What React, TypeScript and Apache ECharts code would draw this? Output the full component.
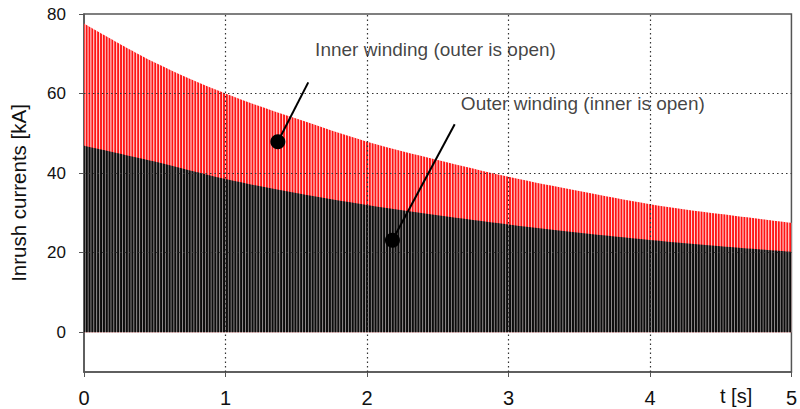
import React, { useEffect, useRef } from 'react';
import * as echarts from 'echarts';

// Envelope (peak) values of the inrush current pulses
const timeS = [0, 0.5, 1, 1.5, 2, 2.5, 3, 3.5, 4, 4.5, 5];
const innerPeakKA = [77.6, 67.8, 60.0, 53.7, 47.9, 43.3, 39.1, 35.5, 32.2, 29.7, 27.5];
const outerPeakKA = [46.9, 42.9, 38.5, 35.0, 32.0, 29.4, 27.1, 25.0, 23.2, 21.6, 20.2];

const yTicks = [0, 20, 40, 60, 80];
const xGridLines = [1, 2, 3, 4];
const yGridLines = [20, 40, 60];

const innerText = 'Inner winding (outer is open)';
const innerTextAt = [1.63, 71.2];
const innerLine = [[1.585, 62.8], [1.37, 47.9]];
const outerText = 'Outer winding (inner is open)';
const outerTextAt = [2.66, 57.4];
const outerLine = [[2.62, 52.3], [2.18, 23.1]];

const FONT = '"Liberation Sans", Arial, Helvetica, sans-serif';

function makeStripes(fg: string, bg: string, fgW: number, hi: string, hiW: number) {
  const c = document.createElement('canvas');
  c.width = 143;
  c.height = 4;
  const ctx = c.getContext('2d')!;
  ctx.fillStyle = bg;
  ctx.fillRect(0, 0, 143, 4);
  for (let i = 0; i < 50; i++) {
    ctx.fillStyle = fg;
    ctx.fillRect(i * 2.86, 0, fgW, 4);
    ctx.fillStyle = hi;
    ctx.fillRect(i * 2.86 + fgW + 0.2, 0, hiW, 4);
  }
  return c;
}

export default function App() {
  const ref = useRef<HTMLDivElement>(null);
  useEffect(() => {
    if (!ref.current) return;
    const chart = echarts.init(ref.current, undefined, { renderer: 'svg' });
    const redPat = makeStripes('#ff1414', '#ffa0a0', 1.8, '#ffffff', 0.55);
    const blackPat = makeStripes('#0c0c0c', '#5a5454', 1.9, '#c4c4c4', 0.5);
    const inner = timeS.map((t, i) => [t, innerPeakKA[i]]);
    const outer = timeS.map((t, i) => [t, outerPeakKA[i]]);
    const gridStyle = { type: [1.5, 3], color: '#333', width: 1.2 };
    const option: any = {
      animation: false,
      grid: {
        left: 80, right: 5, top: 14, bottom: 37,
        show: true, borderColor: '#555', borderWidth: 1.5,
      },
      xAxis: {
        type: 'value', min: 0, max: 5, interval: 1,
        axisLine: { show: true, onZero: false, lineStyle: { color: '#555', width: 1.5 } },
        axisTick: { show: true, length: 5, lineStyle: { color: '#555' } },
        axisLabel: { margin: 16, fontSize: 20, color: '#111', fontFamily: FONT },
        splitLine: { show: false },
      },
      yAxis: {
        type: 'value', min: -10, max: 80, interval: 10,
        name: 'Inrush currents [kA]', nameLocation: 'middle', nameGap: 55,
        nameTextStyle: { fontSize: 20.5, color: '#111', fontFamily: FONT },
        axisLine: { show: true, onZero: false, lineStyle: { color: '#555', width: 1.5 } },
        axisTick: { show: true, length: 5, customValues: yTicks, lineStyle: { color: '#555' } },
        axisLabel: { margin: 18, fontSize: 17, color: '#111', fontFamily: FONT, customValues: yTicks },
        splitLine: { show: false },
      },
      graphic: [
        {
          type: 'text', left: 720, top: 386,
          style: { text: 't [s]', fontSize: 20, fill: '#111', fontFamily: FONT },
        },
      ],
      series: [
        {
          type: 'line', data: inner, smooth: 0.35, symbol: 'none',
          lineStyle: { width: 0, opacity: 0 },
          areaStyle: { color: { image: redPat, repeat: 'repeat' }, opacity: 1, origin: 'auto' },
          z: 1,
        },
        {
          type: 'line', data: outer, smooth: 0.35, symbol: 'none',
          lineStyle: { width: 0, opacity: 0 },
          areaStyle: { color: { image: blackPat, repeat: 'repeat' }, opacity: 1, origin: 'auto' },
          z: 2,
        },
        {
          type: 'line', data: innerLine, symbol: 'none', z: 5,
          lineStyle: { color: '#000', width: 2 },
          markLine: {
            silent: true, symbol: ['none', 'none'], label: { show: false },
            lineStyle: gridStyle,
            data: [
              ...xGridLines.map((v) => ({ xAxis: v })),
              ...yGridLines.map((v) => ({ yAxis: v })),
            ],
          },
        },
        {
          type: 'line', data: outerLine, symbol: 'none', z: 5,
          lineStyle: { color: '#000', width: 2 },
        },
        {
          type: 'scatter', data: [innerLine[1], outerLine[1]], symbolSize: 15, z: 6,
          itemStyle: { color: '#000', opacity: 1 },
        },
        {
          type: 'scatter', z: 6, symbolSize: 1,
          itemStyle: { color: 'rgba(0,0,0,0)' },
          data: [
            { value: innerTextAt, label: { formatter: innerText } },
            { value: outerTextAt, label: { formatter: outerText } },
          ],
          label: {
            show: true, position: 'right', distance: 0,
            fontSize: 19, color: '#111', fontFamily: FONT,
          },
        },
      ],
    };
    chart.setOption(option);
    return () => chart.dispose();
  }, []);
  return (
    <div
      ref={ref}
      style={{ position: 'fixed', left: 0, top: 0, width: 800, height: 409, background: '#fff' }}
    />
  );
}
